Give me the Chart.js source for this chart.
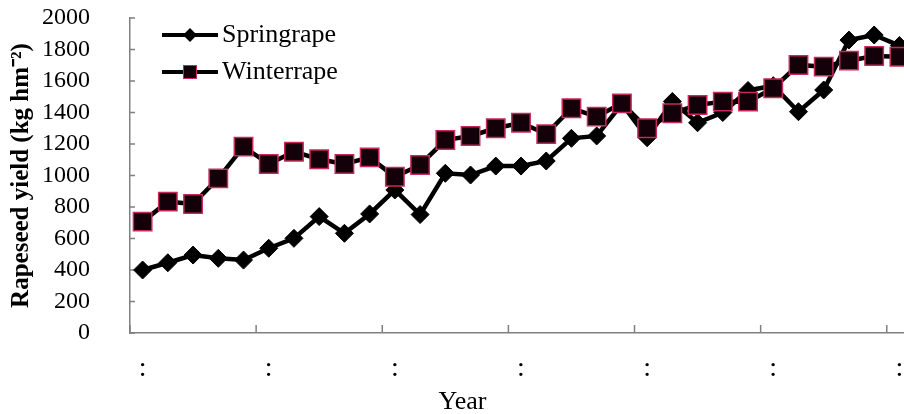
<!DOCTYPE html>
<html lang="en">
  <head>
    <meta charset="utf-8" />
    <title>Rapeseed yield</title>
    <style>
      * {
        margin: 0;
        padding: 0;
      }
      body {
        overflow: hidden;
        background: white;
      }
      .chartBox {
        width: 916px;
        height: 414px;
      }
    </style>
  </head>
  <body>
    <div class="chartBox">
      <canvas id="myChart" width="916" height="414"></canvas>
    </div>
    <script src="https://cdn.jsdelivr.net/npm/chart.js"></script>
    <script>
      // data
      const years = [
        1978, 1979, 1980, 1981, 1982, 1983, 1984, 1985, 1986, 1987, 1988,
        1989, 1990, 1991, 1992, 1993, 1994, 1995, 1996, 1997, 1998, 1999,
        2000, 2001, 2002, 2003, 2004, 2005, 2006, 2007, 2008,
      ];
      const springRape = [
        400, 446, 495, 474, 463, 538, 601, 739, 633, 756, 908, 752, 1014,
        1003, 1060, 1060, 1092, 1236, 1251, 1455, 1240, 1470, 1335, 1400,
        1540, 1570, 1405, 1543, 1860, 1892, 1825,
      ];
      const winterRape = [
        707, 834, 819, 982, 1183, 1073, 1151, 1103, 1073, 1115, 992, 1067,
        1225, 1251, 1300, 1335, 1263, 1427, 1374, 1458, 1300, 1395, 1448,
        1469, 1469, 1554, 1702, 1691, 1729, 1759, 1754,
      ];
      const yTicks = [0, 200, 400, 600, 800, 1000, 1200, 1400, 1600, 1800, 2000];
      const xTickText = ':'; // the year labels show up only as dots
      const tickEvery = 5;

      const serif = "'Liberation Serif', 'Times New Roman', serif";

      // legend icons: line with the marker in the middle
      const makeIcon = (kind) => {
        const c = document.createElement('canvas');
        c.width = 56;
        c.height = 24;
        const ctx = c.getContext('2d');
        ctx.strokeStyle = '#000';
        ctx.lineWidth = 4;
        ctx.beginPath();
        ctx.moveTo(0, 12);
        ctx.lineTo(56, 12);
        ctx.stroke();
        if (kind === 'diamond') {
          ctx.fillStyle = '#000';
          ctx.beginPath();
          ctx.moveTo(28, 5);
          ctx.lineTo(35, 12);
          ctx.lineTo(28, 19);
          ctx.lineTo(21, 12);
          ctx.closePath();
          ctx.fill();
        } else {
          ctx.fillStyle = '#140008';
          ctx.fillRect(21, 5, 14, 14);
          ctx.strokeStyle = '#c8285a';
          ctx.lineWidth = 1;
          ctx.strokeRect(21.5, 5.5, 13, 13);
        }
        return c;
      };
      const icons = [makeIcon('diamond'), makeIcon('square')];

      // inside tick marks
      const insideTicks = {
        id: 'insideTicks',
        beforeDatasetsDraw(chart) {
          const { ctx, scales } = chart;
          const x = scales.x;
          const y = scales.y;
          ctx.save();
          ctx.strokeStyle = '#808080';
          ctx.lineWidth = 1.5;
          ctx.beginPath();
          for (let i = 0; i < years.length; i += tickEvery) {
            const px = x.getPixelForValue(i - 0.5);
            ctx.moveTo(px, x.top);
            ctx.lineTo(px, x.top - 8);
          }
          yTicks.forEach((v) => {
            const py = y.getPixelForValue(v);
            ctx.moveTo(y.right, py);
            ctx.lineTo(y.right + 5, py);
          });
          ctx.stroke();
          ctx.restore();
        },
      };

      // legend drawn inside the plot, top left
      const innerLegend = {
        id: 'innerLegend',
        afterDraw(chart) {
          const { ctx, chartArea } = chart;
          ctx.save();
          ctx.font = '26px ' + serif;
          ctx.fillStyle = '#000';
          ctx.textBaseline = 'middle';
          chart.data.datasets.forEach((ds, i) => {
            const x0 = chartArea.left + 32;
            const y0 = chartArea.top + 17 + i * 37;
            ctx.drawImage(icons[i], x0, y0 - 12);
            ctx.fillText(ds.label, x0 + 60, y0);
          });
          ctx.restore();
        },
      };

      const data = {
        labels: years,
        datasets: [
          {
            label: 'Springrape',
            data: springRape,
            borderColor: '#000',
            backgroundColor: '#000',
            borderWidth: 4.5,
            pointStyle: 'rectRot',
            pointRadius: 9,
            pointBorderWidth: 1,
            pointBorderColor: '#000',
            pointBackgroundColor: '#000',
            order: 1,
          },
          {
            label: 'Winterrape',
            data: winterRape,
            borderColor: '#000',
            backgroundColor: '#140008',
            borderWidth: 4.5,
            pointStyle: 'rect',
            pointRadius: 13,
            pointBorderWidth: 1.5,
            pointBorderColor: '#c8285a',
            pointBackgroundColor: '#140008',
            order: 0,
          },
        ],
      };

      const config = {
        type: 'line',
        data,
        options: {
          responsive: false,
          animation: false,
          // plot runs a little past the right edge of the picture
          layout: { autoPadding: false, padding: { top: 18, right: 4, left: 0, bottom: 0 } },
          scales: {
            x: {
              type: 'category',
              offset: true,
              grid: { display: false, drawTicks: true, tickLength: 17 },
              border: { display: true, color: '#808080', width: 1.5 },
              ticks: {
                autoSkip: false,
                maxRotation: 0,
                padding: 2,
                color: '#000',
                font: { family: serif, size: 28 },
                callback: (val, i) => (i % tickEvery === 0 ? xTickText : ''),
              },
              title: {
                display: true,
                // trailing spaces move the title left, as in the original
                text: 'Year' + ' '.repeat(18),
                color: '#000',
                font: { family: serif, size: 26, lineHeight: 0.9 },
                padding: 0,
              },
              afterFit: (scale) => {
                scale.height = 81;
              },
            },
            y: {
              min: 0,
              max: 2000,
              afterBuildTicks: (scale) => {
                scale.ticks = yTicks.map((v) => ({ value: v }));
              },
              grid: { display: false, drawTicks: true, tickLength: 38 },
              border: { display: true, color: '#808080', width: 1.5 },
              ticks: {
                autoSkip: false,
                padding: 2,
                color: '#000',
                font: { family: serif, size: 24 },
                callback: (v) => String(v),
              },
              title: {
                display: true,
                text: 'Rapeseed yield (kg hm\u207B\u00B2)',
                color: '#000',
                font: { family: serif, size: 25, weight: 'bold' },
                padding: { top: 7, bottom: 0 },
              },
              afterFit: (scale) => {
                scale.width = 130;
              },
            },
          },
          plugins: {
            legend: { display: false },
            tooltip: { enabled: false },
          },
        },
        plugins: [insideTicks, innerLegend],
      };

      const myChart = new Chart(document.getElementById('myChart'), config);
    </script>
  </body>
</html>
